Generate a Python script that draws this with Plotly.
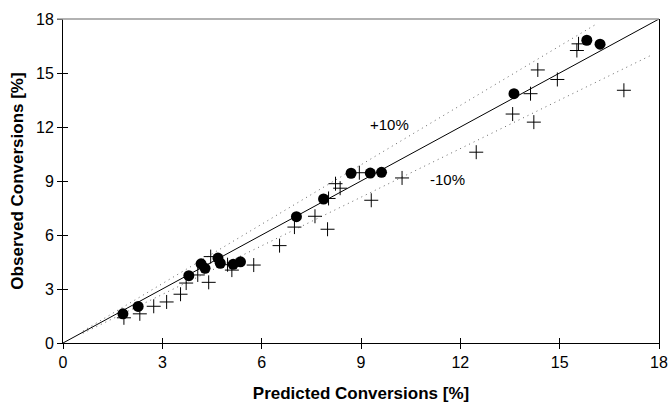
import plotly.graph_objects as go

# Data
circ_x = [1.81, 2.27, 3.80, 4.17, 4.29, 4.68, 4.75, 5.14, 5.36, 7.05, 7.87, 8.70, 9.28, 9.62, 13.62, 15.82, 16.22]
circ_y = [1.62, 2.03, 3.74, 4.40, 4.15, 4.72, 4.43, 4.37, 4.51, 7.02, 8.00, 9.43, 9.44, 9.48, 13.85, 16.82, 16.60]

cross_x = [1.84, 2.32, 2.74, 3.13, 3.55, 3.72, 4.07, 4.40, 4.46, 4.97, 5.10, 5.76, 6.54, 6.99,
           7.61, 7.99, 8.02, 8.23, 8.37, 8.95, 9.31, 10.24, 12.48, 13.58, 14.22, 14.12,
           14.34, 14.93, 15.52, 15.57, 16.94]
cross_y = [1.40, 1.62, 2.04, 2.28, 2.71, 3.33, 3.78, 3.37, 4.80, 4.35, 4.05, 4.33, 5.41, 6.44,
           7.04, 6.32, 8.03, 8.85, 8.60, 9.46, 7.93, 9.17, 10.60, 12.72, 12.27, 13.85,
           15.17, 14.64, 16.25, 16.62, 14.04]

parity_x = [0, 18]
parity_y = [0, 18]
upper_x = [0.6, 16.1]
upper_y = [0.66, 17.71]   # +10 %
lower_x = [0.6, 17.8]
lower_y = [0.54, 16.02]   # -10 %

tick_vals = [0, 3, 6, 9, 12, 15, 18]
tick_text = ["0", "3", "6", "9", "12", "15", "18"]

FONT = "Liberation Sans Narrow, Liberation Sans, Arial, sans-serif"
TITLE_FONT = "Liberation Sans Narrow, Liberation Sans, Arial, sans-serif"

fig = go.Figure()

dot_style = dict(color="#666666", width=1, dash="1px,4px")
fig.add_trace(go.Scatter(x=upper_x, y=upper_y, mode="lines", line=dot_style,
                         hoverinfo="skip", showlegend=False))
fig.add_trace(go.Scatter(x=lower_x, y=lower_y, mode="lines", line=dot_style,
                         hoverinfo="skip", showlegend=False))
fig.add_trace(go.Scatter(x=parity_x, y=parity_y, mode="lines",
                         line=dict(color="black", width=1),
                         xaxis="x2", yaxis="y2", showlegend=False))
fig.add_trace(go.Scatter(x=cross_x, y=cross_y, mode="markers",
                         marker=dict(symbol="cross-thin", size=10,
                                     line=dict(color="black", width=1)),
                         showlegend=False))
fig.add_trace(go.Scatter(x=circ_x, y=circ_y, mode="markers",
                         marker=dict(symbol="circle", size=11, color="black"),
                         showlegend=False))

fig.add_annotation(x=9.85, y=12.15, text="+10%", showarrow=False,
                   font=dict(family=FONT, size=15, color="black"))
fig.add_annotation(x=11.6, y=9.1, text="-10%", showarrow=False,
                   font=dict(family=FONT, size=15, color="black"))

common_ax = dict(range=[0, 18], tickvals=tick_vals, showgrid=False, zeroline=False,
                 showline=True, linecolor="black", linewidth=1, tickcolor="black",
                 tickwidth=1, ticklen=5, automargin=False)

fig.update_layout(
    width=670, height=408,
    margin=dict(l=63, r=11, t=19, b=65),
    paper_bgcolor="white", plot_bgcolor="white",
    xaxis=dict(**common_ax, ticktext=tick_text, ticks="outside", ticklabeloverflow="allow",
               tickfont=dict(family=FONT, size=16, color="black"),
               title=dict(text="<b>Predicted Conversions [%]</b>", standoff=16,
                          font=dict(family=TITLE_FONT, size=17, color="black"))),
    yaxis=dict(**common_ax, ticktext=tick_text, ticks="outside", mirror=True,
               tickfont=dict(family=FONT, size=16, color="black"),
               title=dict(text="<b>Observed Conversions [%]</b>", standoff=8,
                          font=dict(family=TITLE_FONT, size=17, color="black"))),
    xaxis2=dict(**common_ax, overlaying="x", side="bottom", ticks="inside",
                showticklabels=False),
    yaxis2=dict(**common_ax, overlaying="y", side="left", ticks="inside",
                showticklabels=False),
    shapes=[dict(type="line", xref="paper", yref="paper", x0=-0.01, x1=1, y0=1, y1=1,
                 line=dict(color="#999999", width=1.5))],
)

fig.write_html("out.html", config={"displayModeBar": False},
               post_script="document.body.style.margin='0';document.body.style.overflow='hidden';")
